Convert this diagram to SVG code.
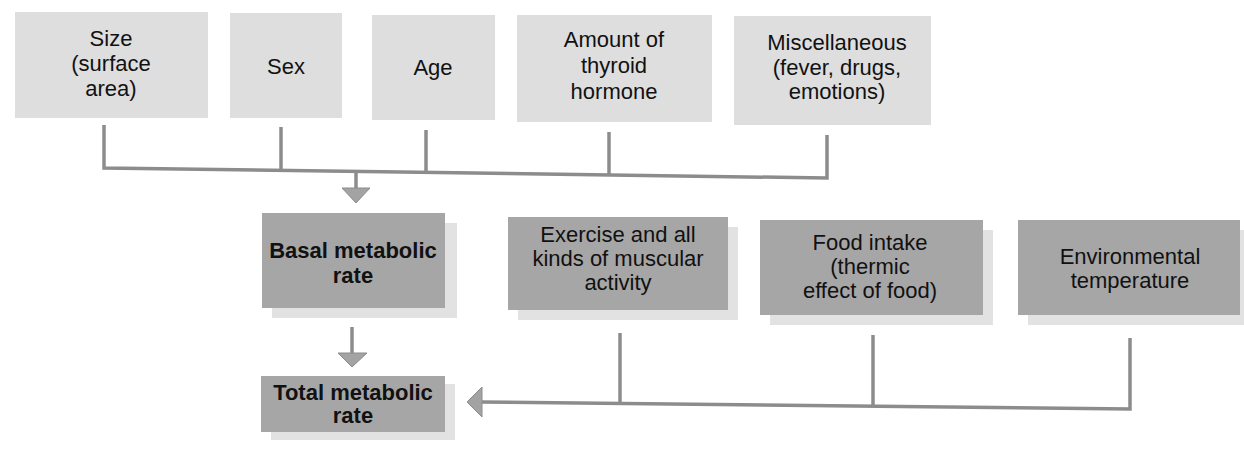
<svg xmlns="http://www.w3.org/2000/svg" width="1244" height="462" viewBox="0 0 1244 462">
<style>
  .top { fill: #dedede; }
  .box { fill: #a6a6a6; }
  .shadow { fill: #e2e2e2; }
  text { font-family: "Liberation Sans", Arial, sans-serif; font-size: 22px; fill: #111; text-anchor: middle; }
  .b { font-weight: bold; }
  .ln { stroke: #8c8c8c; stroke-width: 3.5; fill: none; }
  .ah { fill: #a3a3a3; stroke: #8c8c8c; stroke-width: 1; }
</style>
<rect width="1244" height="462" fill="#ffffff"/>

<g id="size">
  <rect class="top" x="15" y="12" width="193" height="106"/>
  <text x="111" y="46">Size</text>
  <text x="111" y="71">(surface</text>
  <text x="111" y="96">area)</text>
</g>
<g id="sex">
  <rect class="top" x="230" y="13" width="112" height="105"/>
  <text x="286" y="74">Sex</text>
</g>
<g id="age">
  <rect class="top" x="372" y="15" width="123" height="105"/>
  <text x="433" y="75">Age</text>
</g>
<g id="thyroid">
  <rect class="top" x="517" y="15" width="195" height="107"/>
  <text x="614" y="47">Amount of</text>
  <text x="614" y="73">thyroid</text>
  <text x="614" y="99">hormone</text>
</g>
<g id="misc">
  <rect class="top" x="734" y="16" width="197" height="109"/>
  <text x="837" y="50">Miscellaneous</text>
  <text x="837" y="75">(fever, drugs,</text>
  <text x="837" y="99">emotions)</text>
</g>

<g id="bmr">
  <rect class="shadow" x="272" y="223" width="185" height="95"/>
  <rect class="box" x="262" y="213" width="183" height="95"/>
  <text class="b" x="353" y="258">Basal metabolic</text>
  <text class="b" x="353" y="283">rate</text>
</g>
<g id="exercise">
  <rect class="shadow" x="518" y="227" width="220" height="93"/>
  <rect class="box" x="508" y="217" width="220" height="93"/>
  <text x="618" y="242">Exercise and all</text>
  <text x="618" y="266">kinds of muscular</text>
  <text x="618" y="290">activity</text>
</g>
<g id="food">
  <rect class="shadow" x="770" y="230" width="223" height="95"/>
  <rect class="box" x="760" y="220" width="223" height="95"/>
  <text x="870" y="250">Food intake</text>
  <text x="870" y="274">(thermic</text>
  <text x="870" y="298">effect of food)</text>
</g>
<g id="env">
  <rect class="shadow" x="1028" y="230" width="222" height="95"/>
  <rect class="box" x="1018" y="220" width="222" height="95"/>
  <text x="1130" y="264">Environmental</text>
  <text x="1130" y="288">temperature</text>
</g>
<g id="tmr">
  <rect class="shadow" x="271" y="384" width="184" height="56"/>
  <rect class="box" x="261" y="376" width="184" height="56"/>
  <text class="b" x="353" y="400">Total metabolic</text>
  <text class="b" x="353" y="423">rate</text>
</g>

<g id="connectors">
  <path class="ln" d="M104,125 L104,168 L827,178 L827,135"/>
  <path class="ln" d="M281,127 L281,170"/>
  <path class="ln" d="M426,130 L426,172"/>
  <path class="ln" d="M609,132 L609,174"/>
  <path class="ln" d="M356,171 L356,189"/>
  <polygon class="ah" points="342,188 370,188 356,203"/>
  <path class="ln" d="M352,327 L352,354"/>
  <polygon class="ah" points="338,353 367,353 352,367"/>
  <path class="ln" d="M481,402 L1130,409 L1130,338"/>
  <path class="ln" d="M620,333 L620,403"/>
  <path class="ln" d="M873,335 L873,406"/>
  <polygon class="ah" points="482,387 482,417 467,402"/>
</g>
</svg>
